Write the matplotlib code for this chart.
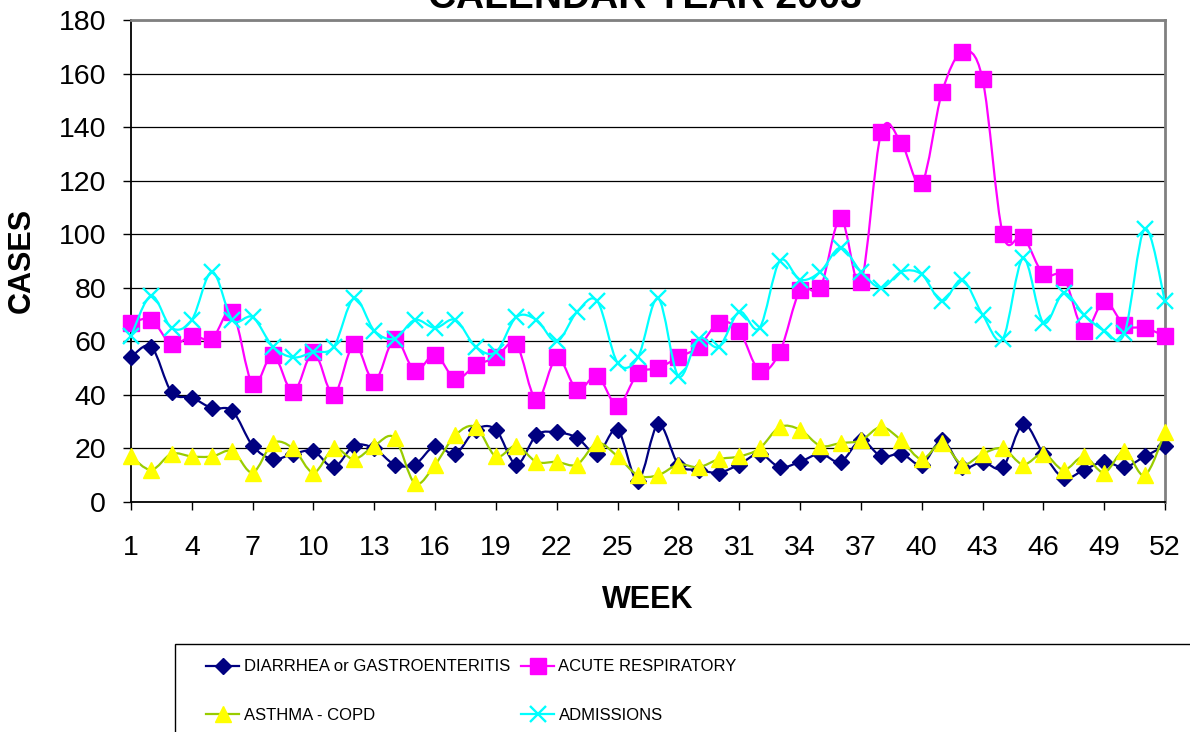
import numpy as np
import matplotlib
matplotlib.use('Agg')
import matplotlib.pyplot as plt
from matplotlib.path import Path
from matplotlib.patches import PathPatch, Rectangle
from matplotlib.lines import Line2D

# weekly counts
weeks = list(range(1, 53))
week_ticks = list(range(1, 53, 3))
y_ticks = [0, 20, 40, 60, 80, 100, 120, 140, 160, 180]

diarrhea = [54, 58, 41, 39, 35, 34, 21, 16, 18, 19, 13, 21, 20, 14, 14, 21, 18, 27, 27, 14,
            25, 26, 24, 18, 27, 8, 29, 14, 12, 11, 14, 18, 13, 15, 18, 15, 23, 17, 18, 14,
            23, 13, 15, 13, 29, 18, 9, 12, 15, 13, 17, 21]
acute_resp = [67, 68, 59, 62, 61, 71, 44, 55, 41, 56, 40, 59, 45, 61, 49, 55, 46, 51, 54, 59,
              38, 54, 42, 47, 36, 48, 50, 54, 58, 67, 64, 49, 56, 79, 80, 106, 82, 138, 134, 119,
              153, 168, 158, 100, 99, 85, 84, 64, 75, 66, 65, 62]
asthma = [17, 12, 18, 17, 17, 19, 11, 22, 20, 11, 20, 16, 21, 24, 7, 14, 25, 28, 17, 21,
          15, 15, 14, 22, 17, 10, 10, 14, 13, 16, 17, 20, 28, 27, 21, 22, 23, 28, 23, 16,
          22, 14, 18, 20, 14, 18, 12, 17, 11, 19, 10, 26]
admissions = [62, 77, 65, 68, 86, 68, 69, 58, 54, 56, 58, 76, 64, 61, 68, 65, 68, 58, 56, 69,
              68, 60, 71, 75, 52, 54, 76, 47, 61, 58, 71, 65, 90, 83, 86, 95, 86, 80, 86, 85,
              75, 83, 70, 61, 91, 67, 78, 70, 64, 63, 102, 75]

labels = ['DIARRHEA or GASTROENTERITIS', 'ACUTE RESPIRATORY', 'ASTHMA - COPD', 'ADMISSIONS']


def smooth_path(xs, ys):
    # Excel style smoothed line: cubic bezier through every point (catmull-rom tangents)
    pts = np.column_stack([xs, ys]).astype(float)
    n = len(pts)
    verts = [pts[0]]
    codes = [Path.MOVETO]
    for i in range(n - 1):
        p0 = pts[i - 1] if i > 0 else pts[i]
        p1 = pts[i]
        p2 = pts[i + 1]
        p3 = pts[i + 2] if i + 2 < n else pts[i + 1]
        verts += [p1 + (p2 - p0) / 6, p2 - (p3 - p1) / 6, p2]
        codes += [Path.CURVE4] * 3
    return Path(verts, codes)


def main():
    plt.rcParams['font.family'] = ['Liberation Sans', 'DejaVu Sans']

    fig = plt.figure(figsize=(11.9, 7.32), dpi=100)
    ax = fig.add_axes([131 / 1190, 1 - 502 / 732, (1165 - 131) / 1190, (502 - 20) / 732])

    styles = [
        dict(color='#000080', marker='D', ms=8, mfc='#000080', mec='#000080', mew=1),
        dict(color='#FF00FF', marker='s', ms=12, mfc='#FF00FF', mec='#FF00FF', mew=1),
        dict(color='#99CC00', marker='^', ms=11.5, mfc='#FFFF00', mec='#FFFF00', mew=1),
        dict(color='#00FFFF', marker='x', ms=11.5, mfc='#00FFFF', mec='#00FFFF', mew=1.7),
    ]
    series = [diarrhea, acute_resp, asthma, admissions]

    handles = []
    for z, (vals, st) in enumerate(zip(series, styles)):
        ax.add_patch(PathPatch(smooth_path(weeks, vals), fill=False, edgecolor=st['color'],
                               lw=1.6, zorder=3 + 2 * z))
        ax.plot(weeks, vals, linestyle='none', marker=st['marker'], ms=st['ms'],
                mfc=st['mfc'], mec=st['mec'], mew=st['mew'], clip_on=False, zorder=4 + 2 * z)
        handles.append(Line2D([], [], color=st['color'], lw=1.6, marker=st['marker'], ms=st['ms'],
                              mfc=st['mfc'], mec=st['mec'], mew=st['mew']))

    ax.set_xlim(1, 52)
    ax.set_ylim(0, 180)
    ax.set_xticks(week_ticks)
    ax.set_yticks(y_ticks)
    ax.tick_params(axis='both', labelsize=20.5, length=6, width=1, direction='out', color='black')
    ax.tick_params(axis='y', pad=12)
    ax.tick_params(axis='x', pad=18)
    ax.grid(True, axis='y', color='black', lw=0.9)
    ax.set_axisbelow(True)

    ax.spines['left'].set_color('black')
    ax.spines['bottom'].set_color('black')
    ax.spines['left'].set_linewidth(1.3)
    ax.spines['bottom'].set_linewidth(1.3)
    for s in ['top', 'right']:
        ax.spines[s].set_color('#808080')
        ax.spines[s].set_linewidth(2)

    # title is cut off by the top edge in the original
    fig.text(645 / 1190, 1 - 8 / 732, 'CALENDAR YEAR 2003', ha='center', va='baseline',
             fontsize=28, fontweight='bold')
    fig.text(22 / 1190, 1 - 260 / 732, 'CASES', rotation=90, ha='center', va='center',
             fontsize=22, fontweight='bold')
    fig.text(648 / 1190, 1 - 600 / 732, 'WEEK', ha='center', va='center',
             fontsize=22, fontweight='bold')

    # legend box runs past the figure edges
    fig.patches.append(Rectangle((175 / 1190, -0.1), 1.0, 0.1 + 1 - 644 / 732,
                                 transform=fig.transFigure, fill=False, edgecolor='black', lw=1))
    leg_font = {'family': 'Liberation Sans', 'size': 12}
    leg_kw = dict(loc='center left', frameon=False, borderpad=0, borderaxespad=0,
                  handlelength=2.0, handletextpad=0.25, labelspacing=2.0, prop=leg_font)
    fig.legend([handles[0], handles[2]], [labels[0], labels[2]],
               bbox_to_anchor=(206 / 1190, 1 - 691 / 732), **leg_kw)
    fig.legend([handles[1], handles[3]], [labels[1], labels[3]],
               bbox_to_anchor=(521 / 1190, 1 - 691 / 732), **leg_kw)

    fig.savefig('out.png', dpi=100)


if __name__ == '__main__':
    main()
